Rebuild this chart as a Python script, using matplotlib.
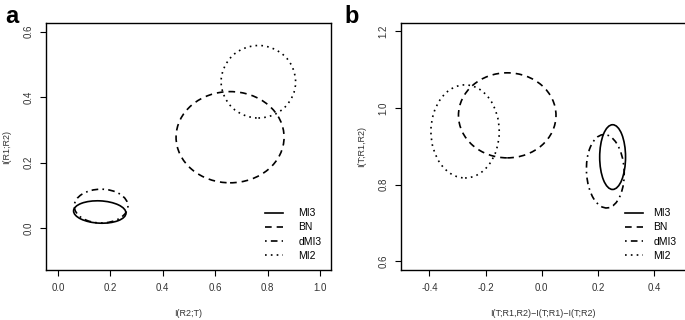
import matplotlib
matplotlib.use("Agg")
import matplotlib.pyplot as plt
from matplotlib.patches import Ellipse
from matplotlib.lines import Line2D

plt.rcParams['font.family'] = ['Liberation Sans', 'DejaVu Sans']

methods = ["MI3", "BN", "dMI3", "MI2"]
styles = ["-", (0, (4, 3)), (0, (1, 2.5, 4, 2.5)), (0, (1, 2.5))]

# panel a: ellipse centres, widths, heights, angle
a_cx = [0.160, 0.657, 0.165, 0.765]
a_cy = [0.050, 0.278, 0.068, 0.447]
a_w = [0.200, 0.412, 0.205, 0.284]
a_h = [0.068, 0.278, 0.103, 0.221]
a_ang = [-2, 0, 0, 0]

# panel b
b_cx = [0.252, -0.123, 0.226, -0.273]
b_cy = [0.872, 0.981, 0.835, 0.939]
b_w = [0.092, 0.347, 0.134, 0.243]
b_h = [0.169, 0.222, 0.192, 0.243]
b_ang = [0, 0, 5, 0]

a_xticks = [0.0, 0.2, 0.4, 0.6, 0.8, 1.0]
a_yticks = [0.0, 0.2, 0.4, 0.6]
b_xticks = [-0.4, -0.2, 0.0, 0.2, 0.4]
b_yticks = [0.6, 0.8, 1.0, 1.2]

fig = plt.figure(figsize=(6.85, 3.2), dpi=100)
ax1 = fig.add_axes([0.0672, 0.156, 0.416, 0.772])
ax2 = fig.add_axes([0.585, 0.156, 0.416, 0.772])


def draw(ax, cx, cy, w, h, ang, xlim, ylim, xt, yt, xlab, ylab, tpad):
    for i in range(len(methods)):
        e = Ellipse((cx[i], cy[i]), w[i], h[i], angle=ang[i], fill=False,
                    edgecolor="black", linestyle=styles[i], linewidth=1.2)
        ax.add_patch(e)
    ax.set_xlim(xlim)
    ax.set_ylim(ylim)
    ax.set_xticks(xt)
    ax.set_yticks(yt)
    ax.set_xticklabels(["%.1f" % v for v in xt], fontsize=7, color="#333333")
    ax.set_yticklabels(["%.1f" % v for v in yt], fontsize=7, color="#333333",
                       rotation=90, va="center")
    ax.tick_params(length=4, width=0.8, pad=5)
    for s in ax.spines.values():
        s.set_linewidth(1.0)
    ax.set_xlabel(xlab, fontsize=6.5, labelpad=12, color="#333333")
    ax.set_ylabel(ylab, fontsize=6.5, labelpad=9, color="#333333")
    handles = [Line2D([0], [0], color="black", linestyle=styles[i], linewidth=1.2)
               for i in range(len(methods))]
    ax.legend(handles, methods, loc="lower right", frameon=False, fontsize=7.5,
              handlelength=1.7, handletextpad=tpad, labelspacing=0.4,
              borderaxespad=0.5)


draw(ax1, a_cx, a_cy, a_w, a_h, a_ang, (-0.045, 1.042), (-0.127, 0.626),
     a_xticks, a_yticks, "I(R2;T)", "I(R1;R2)", 1.5)
draw(ax2, b_cx, b_cy, b_w, b_h, b_ang, (-0.502, 0.512), (0.577, 1.222),
     b_xticks, b_yticks, "I(T;R1,R2)\u2212I(T;R1)\u2212I(T;R2)", "I(T;R1,R2)", 1.0)

fig.text(0.008, 0.928, "a", fontsize=17, fontweight="bold")
fig.text(0.503, 0.928, "b", fontsize=17, fontweight="bold")

fig.savefig("out.png", dpi=100)
